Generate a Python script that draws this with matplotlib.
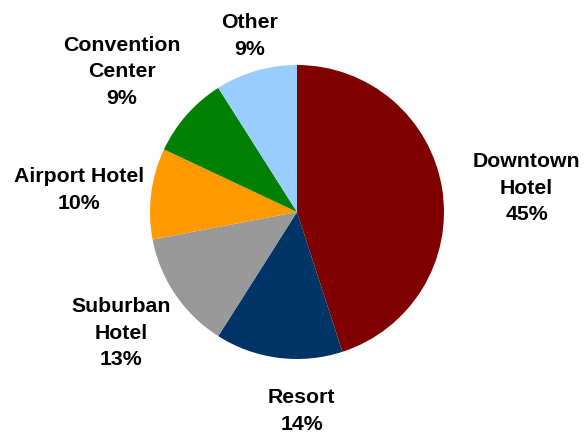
import numpy as np
import matplotlib
matplotlib.use("Agg")
import matplotlib.pyplot as plt

SEGMENTS = ["Downtown\nHotel", "Resort", "Suburban\nHotel", "Airport Hotel",
            "Convention\nCenter", "Other"]
SHARES = [45, 14, 13, 10, 9, 9]  # percent of total
COLORS = ["#800000", "#003366", "#999999", "#FF9900", "#008000", "#99CCFF"]
LABEL_DIST = [1.57, 1.347, 1.449, 1.49, 1.53, 1.246]
LABEL_SHIFT = [-2.8, 8.5, 0.1, 1.2, 2.5, -1.2]  # degrees, nudges label off the wedge middle

plt.rcParams["font.family"] = ["Liberation Sans", "DejaVu Sans"]

W, H = 584, 435
CX, CY, R = 297, 213, 147  # pie centre and radius in pixels
fig = plt.figure(figsize=(W / 100, H / 100), dpi=100)
ax = fig.add_axes([0, 0, 1, 1])

wedges, _ = ax.pie(SHARES, colors=COLORS, startangle=90, counterclock=False,
                   radius=1.0, wedgeprops=dict(linewidth=0))

for w, name, pct, dist, shift in zip(wedges, SEGMENTS, SHARES, LABEL_DIST, LABEL_SHIFT):
    mid = np.deg2rad((w.theta1 + w.theta2) / 2 + shift)
    ax.text(dist * np.cos(mid), dist * np.sin(mid), f"{name}\n{pct}%",
            ha="center", va="center", fontsize=15.3, fontweight="bold",
            linespacing=1.5)

ax.set_xlim(-CX / R, (W - CX) / R)
ax.set_ylim(-(H - CY) / R, CY / R)
ax.set_aspect("equal")
ax.axis("off")

fig.savefig("out.png", dpi=100)
